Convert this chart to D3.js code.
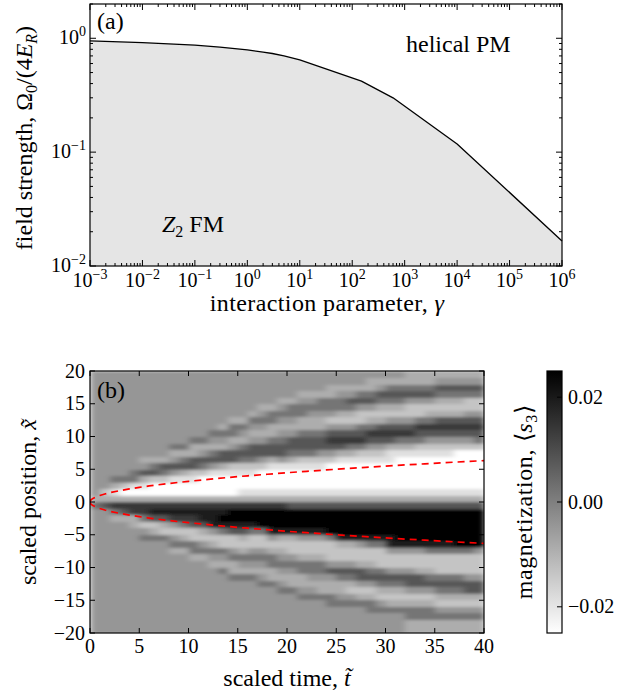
<!DOCTYPE html>
<html><head><meta charset="utf-8">
<script src="https://cdn.jsdelivr.net/npm/d3@7"></script>
<style>
body{margin:0;background:#fff}
svg text{font-family:"Liberation Serif","Times New Roman",serif;fill:#000}
</style></head><body>
<svg id="c" width="639" height="693"></svg>
<script>
// ---------- panel (a): phase boundary ----------
const gammaValues = [1e-3, 1e-2, 1e-1, 0.3, 1, 2, 3, 5, 10, 150, 600, 1e4, 1e6];
const omegaValues = [0.947, 0.915, 0.87, 0.835, 0.79, 0.755, 0.735, 0.70, 0.645, 0.42, 0.30, 0.118, 0.0166];
const gammaTickExps = [-3, -2, -1, 0, 1, 2, 3, 4, 5, 6];
const omegaTickExps = [-2, -1, 0];

// ---------- panel (b): magnetization map ----------
// column start times (width 1)
const timeStarts = [0,1,2,3,4,5,6,7,8,9,10,11,12,13,14,15,16,17,18,19,20,21,22,23,24,25,26,27,28,29,30,31,32,33,34,35,36,37,38,39];
// grey levels per column, positive side: rows x=0..1, 1..2, ..., 19..20
const posProfiles = [
"34444444444444444444","32444444444444444444","31354444444444444444","30254444444444444444",
"30155444444444444444","30136434444444444444","30026534444444444444","30025634444444444444",
"30014643544444444444","30013653544444444444","30012663354444444444","30002564354444444444",
"30001465345444444444","30001366345344444444","30001266435534444444","31001256534534444444",
"31001256643453444444","31000246643454344444","31000136653355344444","31000146654345434444",
"31000135664345534444","31000125665335543444","31000125665334543444","31000124665334553444",
"31000024676424553344","31000013676423554344","31000013576423564344","31000012576522465344",
"31000012467532465334","31000012467632356434","31000011367642356534","31000001357642356534",
"31000001357642246533","31000001256752246533","31000001246753246533","31000001246763235643",
"31000001246763235643","31000000246763235643","31000000246764225643","31000000256764225643"];
// negative side: rows x=0..-1, -1..-2, ..., -19..-20
const negProfiles = [
"54444444444444444444","64444444444444444444","75344444444444444444","76344444444444444444",
"77334444444444444444","77524544444444444444","78623544444444444444","78632544444444444444",
"78742453444444444444","78752353444444444444","78762255344444444444","78863245344444444444",
"78884235434444444444","78985225435444444444","79986224533544444444","79986323543544444444",
"79985224543544444444","79995224543454444444","79998423553354444444","79998323454345444444",
"69998322454335444444","69998422355334544444","69998422355434544444","69998422355433544444",
"69999522246433554444","69999832246533454444","69999832246532454444","69999842236642354444",
"69999852235642355444","69999852225653245444","69999884224653235444","69999984224653235444",
"69999984224664235533","69999984223664235533","69999985223564235533","69999985222565324533",
"69999985222565324533","69999995222565324533","69999995222466324533","69999994222466324533"];
// magnetization value of each grey level
const levelValues = [-0.025, -0.019, -0.0135, -0.009, -0.0045, 0.002, 0.008, 0.014, 0.0195, 0.025];
// red dashed front
const frontTimes = [0, 0.1, 0.3, 0.6, 1, 1.5, 2, 3, 4, 5, 6, 8, 10, 12, 14, 16, 18, 20, 22, 24, 26, 28, 30, 32, 34, 36, 38, 40];
const frontPos   = [0, 0.32, 0.55, 0.77, 1.0, 1.22, 1.41, 1.73, 2.0, 2.24, 2.45, 2.83, 3.16, 3.46, 3.74, 4.0, 4.24, 4.47, 4.69, 4.9, 5.1, 5.29, 5.48, 5.66, 5.83, 6.0, 6.16, 6.32];
const timeTicks = [0, 5, 10, 15, 20, 25, 30, 35, 40];
const posTicks = [-20, -15, -10, -5, 0, 5, 10, 15, 20];
const cbarTicks = [-0.02, 0, 0.02];

const svg = d3.select("#c");
const minus = s => String(s).replace("-", "\u2212");
const TICK_FS = 20, LAB_FS = 24, SUB_FS = 16;

// ================= panel (a) =================
const A = {l: 90, r: 562, t: 4, b: 266};
const xA = d3.scaleLog().domain([1e-3, 1e6]).range([A.l, A.r]);
const yA = d3.scaleLog().domain([0.01, 2]).range([A.b, A.t]);
const gA = svg.append("g");
const pts = gammaValues.map((g, i) => [g, omegaValues[i]]);
gA.append("path").datum(pts)
  .attr("d", d3.area().x(d => xA(d[0])).y0(yA(0.01)).y1(d => yA(d[1])))
  .attr("fill", "#e5e5e5");
gA.append("path").datum(pts)
  .attr("d", d3.line().x(d => xA(d[0])).y(d => yA(d[1])))
  .attr("fill", "none").attr("stroke", "#000").attr("stroke-width", 1.3).attr("stroke-linejoin", "round");

const isMajor = v => Math.abs(Math.log10(v) - Math.round(Math.log10(v))) < 1e-6;
xA.ticks().forEach(v => {
  const L = isMajor(v) ? 6 : 3, x = xA(v);
  gA.append("line").attr("x1", x).attr("x2", x).attr("y1", A.b).attr("y2", A.b - L).attr("stroke", "#000");
  gA.append("line").attr("x1", x).attr("x2", x).attr("y1", A.t).attr("y2", A.t + L).attr("stroke", "#000");
});
yA.ticks().forEach(v => {
  const L = isMajor(v) ? 6 : 3, y = yA(v);
  gA.append("line").attr("x1", A.l).attr("x2", A.l + L).attr("y1", y).attr("y2", y).attr("stroke", "#000");
  gA.append("line").attr("x1", A.r).attr("x2", A.r - L).attr("y1", y).attr("y2", y).attr("stroke", "#000");
});
gA.append("rect").attr("x", A.l).attr("y", A.t).attr("width", A.r - A.l).attr("height", A.b - A.t)
  .attr("fill", "none").attr("stroke", "#000").attr("stroke-width", 1.2);

function powLabel(g, x, y, e, anchor) {
  const t = g.append("text").attr("x", x).attr("y", y).attr("text-anchor", anchor).attr("font-size", TICK_FS);
  t.append("tspan").text("10");
  t.append("tspan").attr("dy", -8).attr("font-size", 14).text(minus(e));
}
gammaTickExps.forEach(e => powLabel(gA, xA(Math.pow(10, e)), 287, e, "middle"));
omegaTickExps.forEach(e => powLabel(gA, 86, yA(Math.pow(10, e)) + 6, e, "end"));

// axis labels
const xl = gA.append("text").attr("x", (A.l + A.r) / 2 + 1).attr("y", 311).attr("text-anchor", "middle")
  .attr("font-size", LAB_FS).attr("letter-spacing", 0.4);
xl.append("tspan").text("interaction parameter, ");
xl.append("tspan").attr("font-style", "italic").text("\u03b3");
const yl = gA.append("text").attr("transform", `translate(32,${(A.t + A.b) / 2 + 3}) rotate(-90)`).attr("text-anchor", "middle").attr("font-size", LAB_FS);
yl.append("tspan").text("field strength, \u03a9");
yl.append("tspan").attr("dy", 5).attr("font-size", SUB_FS).text("0");
yl.append("tspan").attr("dy", -5).text("/(4");
yl.append("tspan").attr("font-style", "italic").text("E");
yl.append("tspan").attr("dy", 5).attr("font-size", SUB_FS).attr("font-style", "italic").text("R");
yl.append("tspan").attr("dy", -5).text(")");

gA.append("text").attr("x", 97).attr("y", 29).attr("font-size", LAB_FS).text("(a)");
gA.append("text").attr("x", 406).attr("y", 52).attr("font-size", LAB_FS).text("helical PM");
const zt = gA.append("text").attr("x", 162).attr("y", 232).attr("font-size", LAB_FS);
zt.append("tspan").attr("font-style", "italic").text("Z");
zt.append("tspan").attr("dy", 5).attr("font-size", SUB_FS).text("2");
zt.append("tspan").attr("dy", -5).text(" FM");

// ================= panel (b) =================
const B = {l: 90, r: 484, t: 371, b: 633};
const xB = d3.scaleLinear().domain([0, 40]).range([B.l, B.r]);
const yB = d3.scaleLinear().domain([-20, 20]).range([B.b, B.t]);
const col = d3.scaleLinear().domain([-0.025, 0.025]).range(["#ffffff", "#000000"]).clamp(true);
const defs = svg.append("defs");
defs.append("clipPath").attr("id", "clipB").append("rect")
  .attr("x", B.l).attr("y", B.t).attr("width", B.r - B.l).attr("height", B.b - B.t);
defs.append("filter").attr("id", "soft").attr("x", 0).attr("y", 0).attr("width", 1).attr("height", 1)
  .append("feGaussianBlur").attr("stdDeviation", "3 1.6").attr("edgeMode", "duplicate");

const gB = svg.append("g");
const cells = [];
timeStarts.forEach((t0, c) => {
  for (let k = 0; k < 20; k++) {
    cells.push({t0, x0: k, x1: k + 1, v: levelValues[+posProfiles[c][k]]});
    cells.push({t0, x0: -(k + 1), x1: -k, v: levelValues[+negProfiles[c][k]]});
  }
});
gB.append("g").attr("clip-path", "url(#clipB)").append("g").attr("filter", "url(#soft)")
  .attr("shape-rendering", "crispEdges").selectAll("rect").data(cells).join("rect")
  .attr("x", d => xB(d.t0)).attr("width", d => xB(d.t0 + 1) - xB(d.t0) + 0.5)
  .attr("y", d => yB(d.x1)).attr("height", d => yB(d.x0) - yB(d.x1) + 0.5)
  .attr("fill", d => col(d.v));

const fr = frontTimes.map((t, i) => [t, frontPos[i]]);
[1, -1].forEach(s => {
  gB.append("path").datum(fr).attr("clip-path", "url(#clipB)")
    .attr("d", d3.line().x(d => xB(d[0])).y(d => yB(s * d[1])))
    .attr("fill", "none").attr("stroke", "#ff0000").attr("stroke-width", 1.7).attr("stroke-dasharray", "7,5");
});

timeTicks.forEach(v => {
  const x = xB(v);
  gB.append("line").attr("x1", x).attr("x2", x).attr("y1", B.b).attr("y2", B.b - 5).attr("stroke", "#000");
  gB.append("line").attr("x1", x).attr("x2", x).attr("y1", B.t).attr("y2", B.t + 5).attr("stroke", "#000");
  gB.append("text").attr("x", x).attr("y", 653).attr("text-anchor", "middle").attr("font-size", TICK_FS).text(v);
});
posTicks.forEach(v => {
  const y = yB(v);
  gB.append("line").attr("x1", B.l).attr("x2", B.l + 5).attr("y1", y).attr("y2", y).attr("stroke", "#000");
  gB.append("line").attr("x1", B.r).attr("x2", B.r - 5).attr("y1", y).attr("y2", y).attr("stroke", "#000");
  gB.append("text").attr("x", 85).attr("y", y + 6.5).attr("text-anchor", "end").attr("font-size", TICK_FS).text(minus(v));
});
gB.append("rect").attr("x", B.l).attr("y", B.t).attr("width", B.r - B.l).attr("height", B.b - B.t)
  .attr("fill", "none").attr("stroke", "#000").attr("stroke-width", 1.2);
gB.append("text").attr("x", 97).attr("y", 398).attr("font-size", LAB_FS).text("(b)");

const bxl = gB.append("text").attr("x", (B.l + B.r) / 2).attr("y", 686).attr("text-anchor", "middle").attr("font-size", LAB_FS);
bxl.append("tspan").text("scaled time, ");
bxl.append("tspan").attr("font-style", "italic").text("t\u0303");
const byl = gB.append("text").attr("transform", `translate(36,${(B.t + B.b) / 2}) rotate(-90)`).attr("text-anchor", "middle").attr("font-size", LAB_FS);
byl.append("tspan").text("scaled position, ");
byl.append("tspan").attr("font-style", "italic").text("x\u0303");

// colorbar
const C = {l: 547, r: 562, t: 371, b: 633};
const yC = d3.scaleLinear().domain([-0.025, 0.025]).range([C.b, C.t]);
const grad = defs.append("linearGradient").attr("id", "cg")
  .attr("x1", 0).attr("y1", 1).attr("x2", 0).attr("y2", 0);
grad.append("stop").attr("offset", 0).attr("stop-color", col(-0.025));
grad.append("stop").attr("offset", 1).attr("stop-color", col(0.025));
svg.append("rect").attr("x", C.l).attr("y", C.t).attr("width", C.r - C.l).attr("height", C.b - C.t)
  .attr("fill", "url(#cg)").attr("stroke", "#000").attr("stroke-width", 1.2);
cbarTicks.forEach(v => {
  const y = yC(v);
  svg.append("line").attr("x1", C.r).attr("x2", C.r - 5).attr("y1", y).attr("y2", y).attr("stroke", "#000");
  svg.append("text").attr("x", 568).attr("y", y + 6.5).attr("font-size", TICK_FS)
    .text((v < 0 ? "\u2212" : "") + Math.abs(v).toFixed(2));
});
const cl = svg.append("text").attr("transform", `translate(532,${(C.t + C.b) / 2}) rotate(-90)`).attr("text-anchor", "middle")
  .attr("font-size", LAB_FS).attr("letter-spacing", 0.6);
cl.append("tspan").text("magnetization, \u27e8");
cl.append("tspan").attr("font-style", "italic").text("s");
cl.append("tspan").attr("dy", 5).attr("font-size", SUB_FS).text("3");
cl.append("tspan").attr("dy", -5).text("\u27e9");
</script>
</body></html>
